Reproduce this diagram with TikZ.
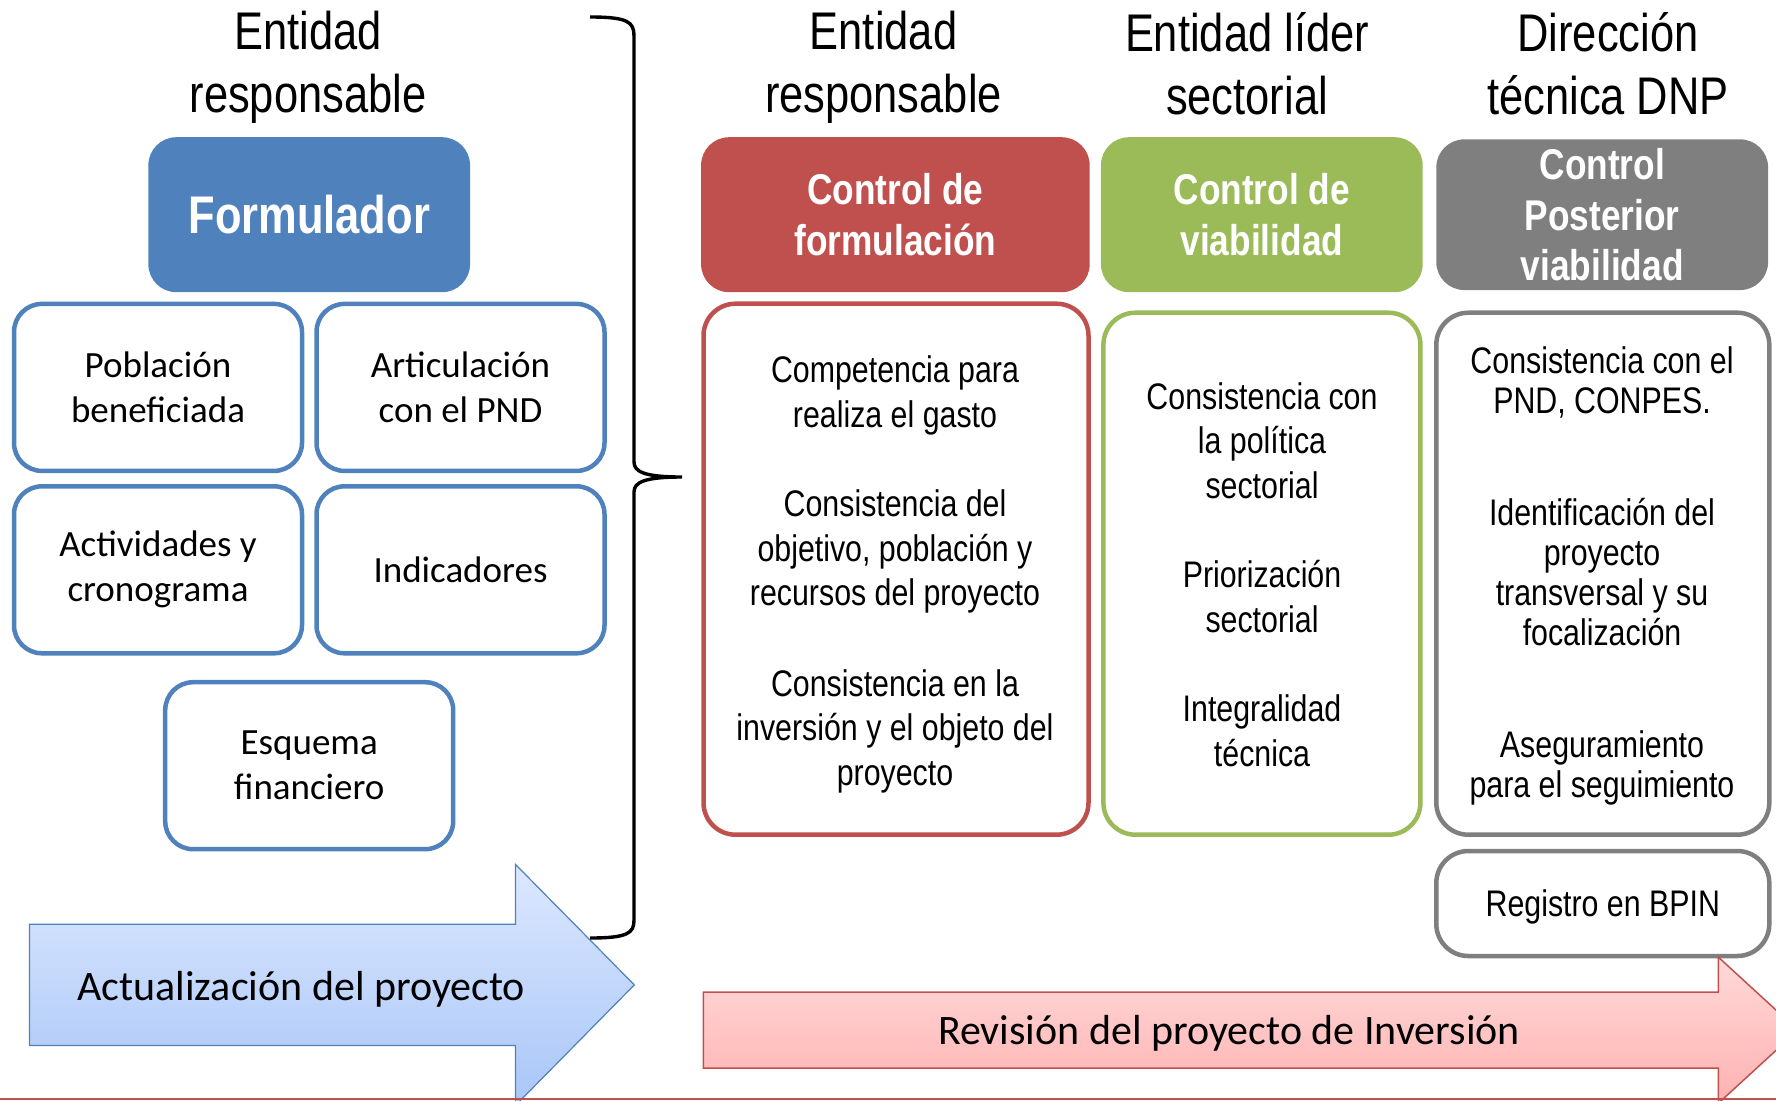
\documentclass[tikz,border=0pt]{standalone}
\usepackage{fontspec}
\setmainfont{Carlito}
\newfontfamily\narrow[FakeStretch=0.82]{Liberation Sans}
\definecolor{cblue}{HTML}{4F81BD}
\definecolor{cred}{HTML}{C0504D}
\definecolor{cgreen}{HTML}{9BBB59}
\definecolor{cgray}{HTML}{7F7F7F}
\definecolor{abluetop}{HTML}{DCE8FF}
\definecolor{abluebot}{HTML}{A9C6F7}
\definecolor{aredtop}{HTML}{FFD9D9}
\definecolor{aredbot}{HTML}{FFB1B1}
\begin{document}
\begin{tikzpicture}[x=1pt,y=-1pt,
 ttl/.style={font=\narrow\fontsize{53}{63}\selectfont,align=center,inner sep=0pt},
 hdr/.style={fill=#1,draw=none,rounded corners=28pt,text=white,font=\narrow\bfseries\fontsize{43}{50.5}\selectfont,align=center,inner sep=0pt},
 sbox/.style={draw=cblue,line width=4.5pt,rounded corners=28pt,fill=white,minimum width=288pt,minimum height=167pt,font=\fontsize{37}{45}\selectfont,align=center,inner sep=0pt},
 cbox/.style={draw=#1,line width=4.5pt,rounded corners=32pt,fill=white,inner sep=0pt},
 ctext/.style={font=\narrow\fontsize{37}{44.7}\selectfont,align=center,inner sep=0pt},
 gtext/.style={font=\narrow\fontsize{37}{40}\selectfont,align=center,inner sep=0pt},
 atext/.style={font=\fontsize{42}{50}\selectfont,inner sep=0pt}]
\useasboundingbox (0,0) rectangle (1776,1100);
\clip (0,0) rectangle (1776,1100);
% titles
\node[ttl] (t0) at (308,67) {Entidad\\responsable};
\node[ttl] (t1) at (883.5,67) {Entidad\\responsable};
\node[ttl] (t2) at (1247,64) {Entidad líder\\sectorial};
\node[ttl] (t3) at (1608,64) {Dirección\\técnica DNP};
% header boxes
\node[hdr=cblue, minimum width=321.7pt, minimum height=155pt, font=\narrow\bfseries\fontsize{53}{60}\selectfont] (form) at (309.2,214.7) {Formulador};
\node[hdr=cred, minimum width=388.6pt, minimum height=155pt] (h1) at (895.4,214.7) {Control de\\formulación};
\node[hdr=cgreen, minimum width=321.7pt, minimum height=155pt] (h2) at (1261.8,214.7) {Control de\\viabilidad};
\node[hdr=cgray, minimum width=331.8pt, minimum height=150.7pt] (h3) at (1602.2,214.7) {Control\\Posterior\\viabilidad};
% small boxes
\node[sbox] (pob) at (158,387.4) {Población\\beneficiada};
\node[sbox] (art) at (460.5,387.4) {Articulación\\con el PND};
\node[sbox] (act) at (158,569.8) {Actividades y\\cronograma};
\node[sbox] (ind) at (460.5,569.8) {Indicadores};
\node[sbox] (esq) at (309.2,765.7) {Esquema\\financiero};
% content boxes
\node[cbox=cred, minimum width=385pt, minimum height=531pt] (c1) at (896,569.2) {};
\node[cbox=cgreen, minimum width=317pt, minimum height=522pt] (c2) at (1261.9,573.7) {};
\node[cbox=cgray, minimum width=333pt, minimum height=522pt] (c3) at (1602.8,573.7) {};
\node[cbox=cgray, minimum width=333pt, minimum height=105pt, text depth=0pt, font=\narrow\fontsize{37}{44}\selectfont] (bpin) at (1602.8,903.5) {Registro en BPIN};
% content texts
\node[ctext] (r1) at (895,395.3) {Competencia para\\realiza el gasto};
\node[ctext] (r2) at (895,551.6) {Consistencia del\\objetivo, población y\\recursos del proyecto};
\node[ctext] (r3) at (895,731.4) {Consistencia en la\\inversión y el objeto del\\proyecto};
\node[ctext] (g1) at (1262,440.6) {Consistencia con\\la política\\sectorial};
\node[ctext] (g2) at (1262,596.4) {Priorización\\sectorial};
\node[ctext] (g3) at (1262,730.6) {Integralidad\\técnica};
\node[gtext] (d1) at (1602,382.3) {Consistencia con el\\PND, CONPES.};
\node[gtext] (d2) at (1602,572.3) {Identificación del\\proyecto\\transversal y su\\focalización};
\node[gtext] (d3) at (1602,768) {Aseguramiento\\para el seguimiento};
% arrows
\path[draw=cblue, line width=1.2pt, top color=abluetop, bottom color=abluebot] (29.5,924.3) -- (515.4,924.3) -- (515.4,864.3) -- (634.3,984.9) -- (515.4,1105.5) -- (515.4,1045.5) -- (29.5,1045.5) -- cycle;
\node[atext] (actu) at (301.3,988.9) {Actualización del proyecto};
\path[draw=cred, line width=1.5pt, top color=aredtop, bottom color=aredbot] (703.4,992.2) -- (1718.3,992.2) -- (1718.3,957.1) -- (1798,1030.2) -- (1718.3,1103.3) -- (1718.3,1068.1) -- (703.4,1068.1) -- cycle;
\node[atext] (rev) at (1229,1033) {Revisión del proyecto de Inversión};
\draw[cred, line width=2pt] (0,1098.8) -- (1776,1098.8);
% brace
\draw[line width=3.4pt] (590,17) .. controls (628,17) and (634,22) .. (634,36) -- (634,462) .. controls (634,472) and (645,477) .. (682,477) .. controls (645,477) and (634,482) .. (634,492) -- (634,920) .. controls (634,933) and (628,938) .. (590,938);
\end{tikzpicture}
\end{document}
